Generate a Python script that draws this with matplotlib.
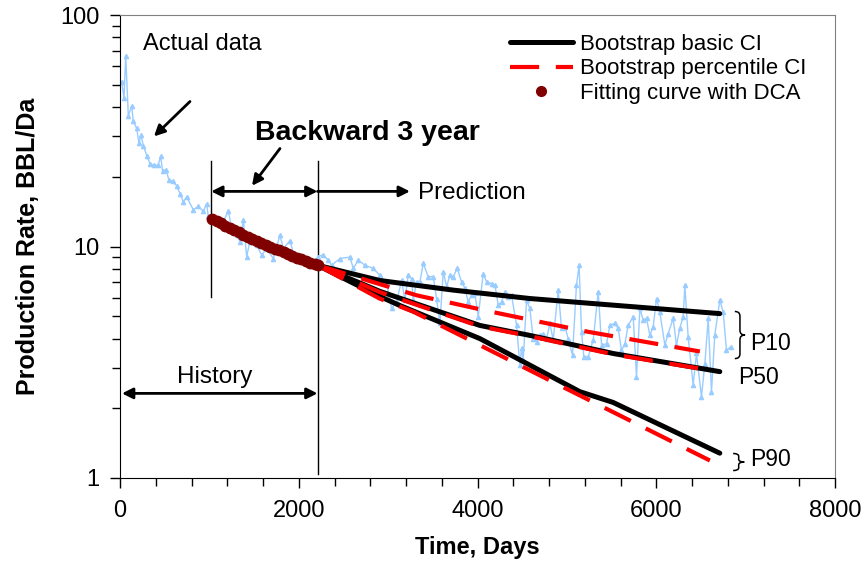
import numpy as np
import matplotlib
matplotlib.use("Agg")
import matplotlib.pyplot as plt
from matplotlib.lines import Line2D
from matplotlib.path import Path
from matplotlib.patches import PathPatch
from matplotlib.ticker import FixedLocator, NullFormatter, FuncFormatter, MultipleLocator

plt.rcParams['font.family'] = ['Liberation Sans', 'DejaVu Sans']

# ---------------- data ----------------
actual_days = [19, 45, 64, 93, 131, 149, 187, 212, 235, 261, 299, 336, 381, 425, 455, 477, 515, 548,
               593, 634, 671, 709, 746, 820, 876, 932, 969, 988, 1081, 1155, 1212, 1250, 1305, 1342,
               1380, 1417, 1454, 1529, 1585, 1641, 1715, 1790, 1827, 1902, 1958, 2013, 2088, 2144,
               2218, 2274, 2330, 2367, 2461, 2573, 2610, 2666, 2740, 2834,
               2908, 2983, 3039, 3095, 3151, 3188, 3225, 3262, 3281, 3318, 3356, 3393, 3449, 3505,
               3542, 3579, 3617, 3654, 3691, 3729, 3773, 3821, 3859, 3896, 3933, 3971, 4008, 4064,
               4101, 4157, 4195, 4232, 4269, 4306, 4344, 4381, 4437, 4474, 4493, 4511, 4549, 4586,
               4623, 4661, 4698, 4735, 4773, 4810, 4847, 4903, 4940, 4978, 5015, 5063, 5107, 5137,
               5164, 5190, 5239, 5295, 5351, 5388, 5444, 5481, 5537, 5574, 5611, 5649, 5686, 5742,
               5779, 5817, 5854, 5891, 5928, 5966, 6003, 6040, 6096, 6133, 6189, 6226, 6264, 6301,
               6320, 6357, 6413, 6450, 6506, 6544, 6581, 6618, 6655, 6711, 6749, 6786, 6831]
actual_rate = [51.6, 43.6, 66.8, 36.8, 40.3, 34.7, 32.4, 27.9, 30.2, 27.3, 24.7, 22.8, 22.4, 22.4, 24.5,
               21.1, 21.5, 19.3, 19.1, 18.3, 16.9, 15.6, 16.4, 14.4, 14.9, 14.2, 15.3, 13.5, 12.6, 12.8,
               14.2, 12.0, 11.2, 10.5, 13.0, 9.05, 10.5, 10.1, 9.18, 9.8, 8.87, 11.2, 9.8, 10.6, 8.87,
               9.2, 8.6, 8.3, 9.05, 9.2, 8.73, 8.3, 8.87, 9.0, 8.04, 8.73, 8.3, 8.04,
               7.5, 6.92, 5.4, 5.78, 7.15, 5.86, 7.52, 7.27, 5.86, 7.04, 7.04, 8.45, 7.4, 7.4,
               5.96, 4.65, 7.78, 6.7, 7.5, 7.4, 8.04, 7.04, 6.59, 5.77, 6.16, 6.27, 4.97, 7.64,
               7.04, 6.92, 6.8, 5.58, 5.77, 6.39, 6.06, 6.16, 4.57, 3.07, 3.63, 3.23, 5.86, 5.4,
               4.0, 3.87, 4.14, 4.2, 4.0, 4.65, 3.95, 6.48, 4.43, 4.5, 4.0, 3.39, 6.8, 8.3,
               4.28, 3.34, 3.34, 3.95, 6.39, 3.75, 3.8, 4.57, 4.65, 4.43, 3.56, 3.8, 4.57, 4.97,
               2.74, 5.4, 4.81, 4.89, 4.14, 4.5, 5.96, 5.22, 3.75, 4.2, 4.89, 3.75, 4.43, 4.97,
               6.8, 4.07, 2.52, 3.45, 2.24, 3.12, 4.89, 2.36, 4.14, 5.86, 5.22, 3.56, 3.68]

fit_days = [1030, 1080, 1130, 1180, 1230, 1280, 1330, 1380, 1430, 1480, 1530, 1580, 1630, 1680,
            1730, 1780, 1830, 1880, 1930, 1980, 2030, 2080, 2130, 2180, 2210]
fit_rate = [13.2, 12.9, 12.6, 12.3, 12.0, 11.75, 11.5, 11.25, 11.0, 10.8, 10.6, 10.4, 10.2, 10.0,
            9.8, 9.62, 9.45, 9.3, 9.12, 8.96, 8.8, 8.66, 8.52, 8.39, 8.3]

basic_p10_days = [2210, 2908, 3729, 4586, 5518, 6711]
basic_p10_rate = [8.3, 7.13, 6.48, 5.96, 5.58, 5.13]
basic_p50_days = [2210, 2908, 3468, 4027, 4586, 5518, 6711]
basic_p50_rate = [8.3, 6.4, 5.4, 4.56, 4.13, 3.45, 2.88]
basic_p90_days = [2210, 2908, 3132, 4027, 5145, 5518, 6711]
basic_p90_rate = [8.3, 6.08, 5.56, 4.0, 2.36, 2.12, 1.28]

pct_p10_days = [2210, 3322, 4139, 5224, 6488]
pct_p10_rate = [8.3, 6.15, 5.24, 4.29, 3.52]
pct_p50_days = [2210, 2908, 3468, 4027, 4586, 5518, 6650]
pct_p50_rate = [8.3, 6.35, 5.35, 4.52, 4.1, 3.42, 2.9]
pct_p90_days = [2210, 2908, 3277, 3881, 4922, 6600]
pct_p90_rate = [8.3, 5.95, 5.24, 4.0, 2.51, 1.19]

x_ticks = [0, 2000, 4000, 6000, 8000]
y_ticks = [1, 10, 100]

legend_labels = ["Bootstrap basic CI", "Bootstrap percentile CI", "Fitting curve with DCA"]

# ---------------- figure ----------------
fig = plt.figure(figsize=(8.68, 5.67), dpi=100)
ax = fig.add_axes([120/868, 1-478/567, 715/868, 463/567])
ax.set_yscale('log')
ax.set_xlim(0, 8000)
ax.set_ylim(1, 100)

blue = '#99CCFF'
ax.plot(actual_days, actual_rate, color=blue, lw=1.0, marker='^', ms=3, mec=blue, mfc=blue, zorder=2)

for d, r in [(basic_p10_days, basic_p10_rate), (basic_p50_days, basic_p50_rate), (basic_p90_days, basic_p90_rate)]:
    ax.plot(d, r, color='black', lw=3.6, solid_capstyle='round', zorder=3)
for d, r in [(pct_p10_days, pct_p10_rate), (pct_p50_days, pct_p50_rate), (pct_p90_days, pct_p90_rate)]:
    ax.plot(d, r, color='#FF0000', lw=3.0, dashes=(7, 4), zorder=4)

ax.plot(fit_days, fit_rate, color='#800000', lw=0, marker='o', ms=7.5, zorder=5)

# axes styling
ax.xaxis.set_major_locator(FixedLocator(x_ticks))
ax.xaxis.set_minor_locator(MultipleLocator(400))
ax.yaxis.set_major_locator(FixedLocator(y_ticks))
ax.yaxis.set_minor_locator(FixedLocator([m * 10**e for e in range(0, 2) for m in range(2, 10)]))
ax.yaxis.set_major_formatter(FuncFormatter(lambda v, p: f"{v:g}"))
ax.yaxis.set_minor_formatter(NullFormatter())
ax.tick_params(axis='both', which='both', direction='out', color='black', width=1)
ax.tick_params(axis='both', which='major', length=7, labelsize=17)
ax.tick_params(axis='x', which='major', pad=9)
ax.tick_params(axis='y', which='major', pad=8)
ax.tick_params(axis='both', which='minor', length=6)
for s in ['left', 'bottom']:
    ax.spines[s].set_color('black')
for s in ['top', 'right']:
    ax.spines[s].set_color('#808080')

ax.set_xlabel("Time, Days", fontsize=17, fontweight='bold', labelpad=10)
ax.set_ylabel("Production Rate, BBL/Da", fontsize=18, fontweight='bold', labelpad=14)

# legend
handles = [Line2D([], [], color='black', lw=3.6, solid_capstyle='round'),
           Line2D([], [], color='#FF0000', lw=3.0, dashes=(7, 4)),
           Line2D([], [], color='#800000', lw=0, marker='o', ms=7)]
ax.legend(handles, legend_labels, loc='upper left', bbox_to_anchor=(0.545, 0.96), frameon=False,
          fontsize=16, handlelength=2.85, handletextpad=0.3, labelspacing=0.17, borderpad=0,
          borderaxespad=0)

# annotations
arrow_kw = dict(arrowstyle='-|>', color='black', lw=2, mutation_scale=16, shrinkA=0, shrinkB=0)
dbl_kw = dict(arrowstyle='<|-|>', color='black', lw=2, mutation_scale=16, shrinkA=0, shrinkB=0)

ax.text(258, 75.3, "Actual data", fontsize=17, ha='left', va='center')
ax.annotate("", xy=(380, 29.9), xytext=(783, 42.3), arrowprops=arrow_kw)

ax.text(2763, 30.8, "Backward 3 year", fontsize=20.5, fontweight='bold', ha='center', va='center')
ax.annotate("", xy=(1477, 18.3), xytext=(1790, 26.5), arrowprops=arrow_kw)

ax.plot([1020, 1020], [6.08, 23.3], color='black', lw=1, zorder=1)
ax.plot([2210, 2210], [1.045, 23.3], color='black', lw=1, zorder=1)
ax.annotate("", xy=(2210, 17.3), xytext=(1020, 17.3), arrowprops=dbl_kw)
ax.annotate("", xy=(3244, 17.3), xytext=(2210, 17.3), arrowprops=arrow_kw)
ax.text(3333, 17.1, "Prediction", fontsize=17.5, ha='left', va='center')

ax.annotate("", xy=(2210, 2.32), xytext=(22, 2.32), arrowprops=dbl_kw)
ax.text(1063, 2.74, "History", fontsize=17.5, ha='center', va='center')


def brace(x, ytop, ybot, w, r=0.02):
    lt, lb = np.log10(ytop), np.log10(ybot)
    lm = 0.5 * (lt + lb)
    xm = x + w / 2
    pts = [(x, lt), (xm, lt), (xm, lt - r), (xm, lm + r), (xm, lm), (x + w, lm),
           (xm, lm), (xm, lm - r), (xm, lb + r), (xm, lb), (x, lb)]
    codes = [Path.MOVETO, Path.CURVE3, Path.CURVE3, Path.LINETO, Path.CURVE3, Path.CURVE3,
             Path.CURVE3, Path.CURVE3, Path.LINETO, Path.CURVE3, Path.CURVE3]
    verts = [(px, 10**py) for px, py in pts]
    ax.add_patch(PathPatch(Path(verts, codes), fill=False, color='black', lw=1.1, zorder=6,
                           clip_on=False))


brace(6879, 5.24, 3.28, 115)
brace(6860, 1.276, 1.077, 125, r=0.012)
ax.text(7047, 3.81, "P10", fontsize=16.5, ha='left', va='center')
ax.text(6913, 2.72, "P50", fontsize=16.5, ha='left', va='center')
ax.text(7047, 1.2, "P90", fontsize=16.5, ha='left', va='center')

fig.savefig("out.png", dpi=100)
